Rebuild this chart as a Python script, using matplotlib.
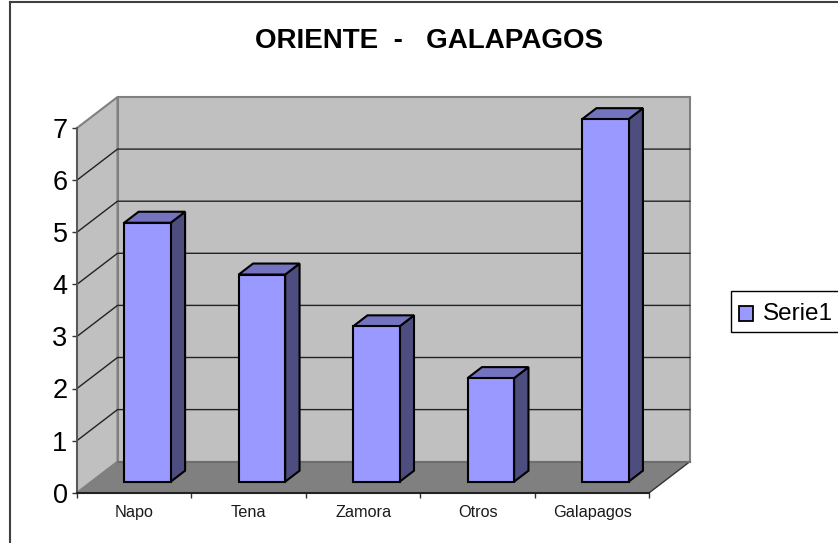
import matplotlib
matplotlib.use("Agg")
import matplotlib.pyplot as plt
from matplotlib.lines import Line2D
from matplotlib.patches import Rectangle

categories = ["Napo", "Tena", "Zamora", "Otros", "Galapagos"]
values = [5, 4, 3, 2, 7]
y_ticks = [0, 1, 2, 3, 4, 5, 6, 7]
series_name = "Serie1"

W, H = 838, 543
plt.rcParams["font.family"] = ["Liberation Sans", "DejaVu Sans"]

# front plane of the fake 3d box, in pixels
left, right, bottom, top = 77, 649.3, 492.7, 128

fig = plt.figure(figsize=(W / 100, H / 100), dpi=100, facecolor="white")
ax = fig.add_axes([left / W, 1 - bottom / H, (right - left) / W, (bottom - top) / H])
ax.set_xlim(0, len(categories))
ax.set_ylim(0, 7)
ax.patch.set_visible(False)

# depth of the box in data units
DX = 40.5 / ((right - left) / len(categories))
DY = 31 / ((bottom - top) / 7)


def proj(x, y, d):
    return x + d * DX, y + d * DY


def face(points, **kw):
    kw.setdefault("clip_on", False)
    ax.fill([p[0] for p in points], [p[1] for p in points], **kw)


n = len(categories)
ymax = y_ticks[-1]

# walls and floor
wall_edge = "#808080"
face([proj(0, 0, 1), proj(n, 0, 1), proj(n, ymax, 1), proj(0, ymax, 1)],
     fc="#C0C0C0", ec=wall_edge, lw=1.5, zorder=1)
face([proj(0, 0, 0), proj(0, 0, 1), proj(0, ymax, 1), proj(0, ymax, 0)],
     fc="#C0C0C0", ec=wall_edge, lw=1.5, zorder=1)
face([proj(0, 0, 0), proj(n, 0, 0), proj(n, 0, 1), proj(0, 0, 1)],
     fc="#808080", ec="none", zorder=1.5)
ax.plot(*zip(proj(n, 0, 0), proj(n, 0, 1)), color="#333333", lw=1, clip_on=False, zorder=1.6)
ax.plot(*zip(proj(0, 0, 1), proj(n, 0, 1)), color="#6E6E6E", lw=1.5, clip_on=False, zorder=1.6)

# gridlines along side wall and back wall
for v in y_ticks[1:-1]:
    ax.plot(*zip(proj(0, v, 0), proj(0, v, 1), proj(n, v, 1)),
            color="#222222", lw=1, clip_on=False, zorder=2)

# bars, the bar plane sits a bit further back so its scale is a little smaller
bar_w = 46.5 / ((right - left) / n)
d0, d1 = 0.355, 0.71
shift = -0.01
bar_scale = 0.994
for i, v in enumerate(values):
    x0 = i + 0.5 - bar_w / 2 + shift
    x1 = x0 + bar_w
    h = v * bar_scale
    z = 3 + i * 0.1
    style = dict(ec="black", lw=1.5, zorder=z, joinstyle="miter")
    face([proj(x1, 0, d0), proj(x1, 0, d1), proj(x1, h, d1), proj(x1, h, d0)], fc="#4D4D80", **style)
    face([proj(x0, h, d0), proj(x1, h, d0), proj(x1, h, d1), proj(x0, h, d1)], fc="#7373BF", **style)
    face([proj(x0, 0, d0), proj(x1, 0, d0), proj(x1, h, d0), proj(x0, h, d0)], fc="#9999FF", **style)

# axes
for s in ("top", "right"):
    ax.spines[s].set_visible(False)
ax.spines["left"].set_color("#555555")
ax.spines["left"].set_linewidth(1.3)
ax.spines["bottom"].set_color("#222222")
ax.spines["bottom"].set_linewidth(1.5)
for s in ax.spines.values():
    s.set_zorder(2.5)
ax.set_yticks(y_ticks)
ax.tick_params(axis="y", length=3.8, width=1, color="#333333", labelsize=19.5, pad=3)
ax.set_xticks(range(n + 1))
ax.set_xticklabels([])
ax.tick_params(axis="x", length=3.8, width=1, color="#333333")
ax.set_xticks([i + 0.5 for i in range(n)], minor=True)
ax.set_xticklabels(categories, minor=True, fontsize=11.7, color="#1A1A1A")
ax.tick_params(axis="x", which="minor", length=0, pad=9)

# title
fig.text(429.5 / W, 1 - 40.5 / H, "ORIENTE  -   GALAPAGOS", fontsize=20, fontweight="bold",
         ha="center", va="center")

# legend box runs off the right edge like the original
fig.add_artist(Rectangle((730.5 / W, 1 - 331.5 / H), 120 / W, 40.5 / H, transform=fig.transFigure,
                         fc="white", ec="black", lw=1))
fig.add_artist(Rectangle((738.5 / W, 1 - 320.5 / H), 14.5 / W, 14.5 / H, transform=fig.transFigure,
                         fc="#9999FF", ec="black", lw=1.3))
fig.text(762.5 / W, 1 - 314 / H, series_name, fontsize=17.5, ha="left", va="center")

# chart frame, only top and left show
frame = "#404040"
fig.add_artist(Line2D([10 / W, 10 / W], [0, 1 - 2 / H], color=frame, lw=1.5, transform=fig.transFigure))
fig.add_artist(Line2D([10 / W, 1], [1 - 2 / H, 1 - 2 / H], color=frame, lw=1.5, transform=fig.transFigure))

fig.savefig("out.png", dpi=100)
